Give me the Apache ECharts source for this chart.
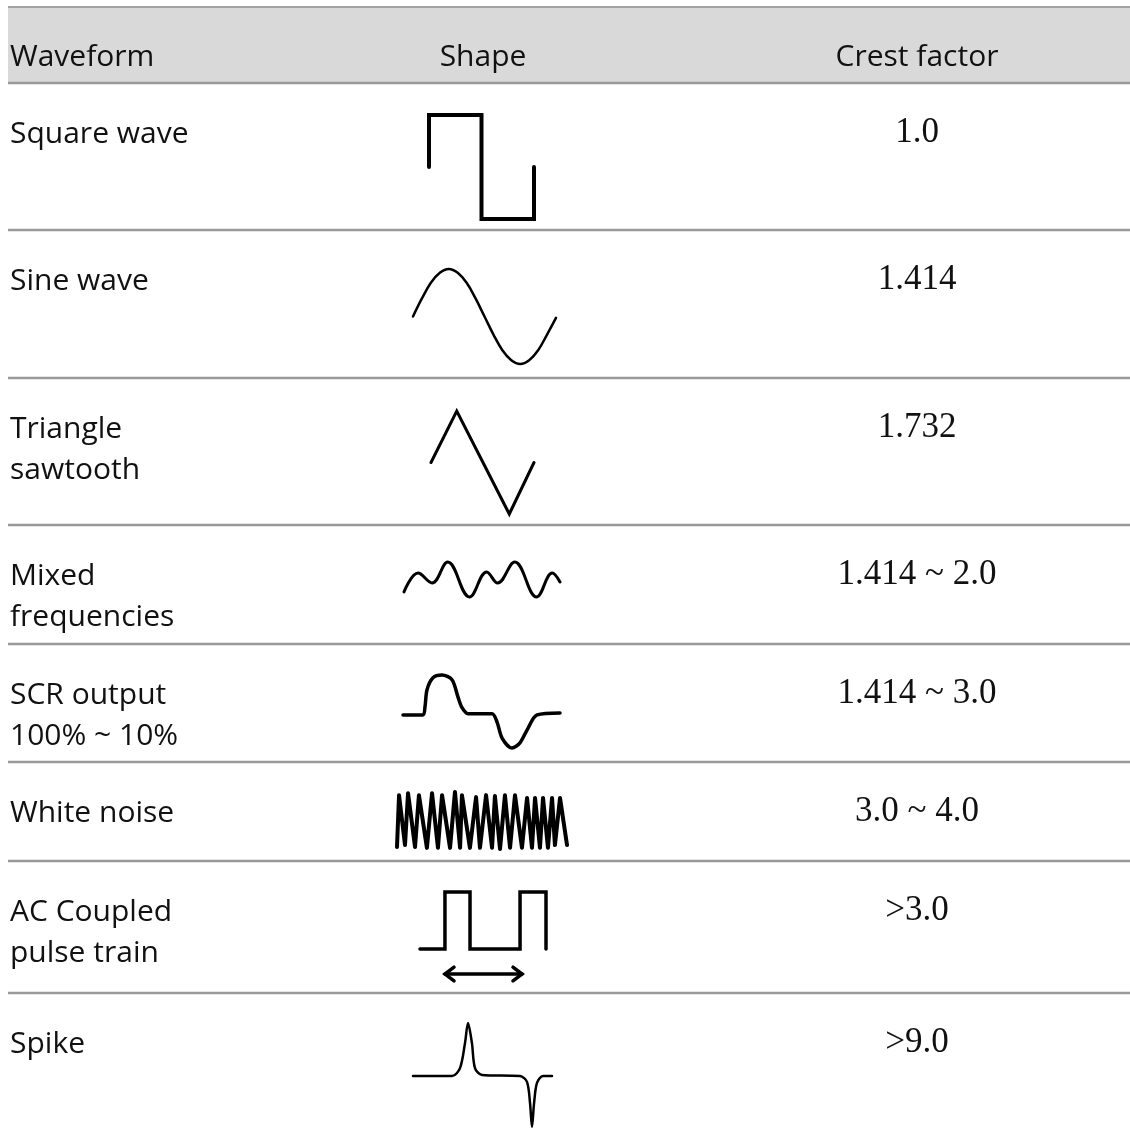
<!DOCTYPE html>
<html>
<head>
<meta charset="utf-8">
<script src="https://cdn.jsdelivr.net/npm/echarts@6/dist/echarts.min.js"></script>
<style>
html, body { margin: 0; padding: 0; background: #fff; }
#chart { width: 1130px; height: 1135px; }
</style>
</head>
<body>
<div id="chart"></div>
<script>
// table text
var headers = ["Waveform", "Shape", "Crest factor"];
var waveformNames = [
  ["Square wave"], ["Sine wave"], ["Triangle", "sawtooth"], ["Mixed", "frequencies"],
  ["SCR output", "100% ~ 10%"], ["White noise"], ["AC Coupled", "pulse train"], ["Spike"]
];
var crestFactors = ["1.0", "1.414", "1.732", "1.414 ~ 2.0", "1.414 ~ 3.0", "3.0 ~ 4.0", ">3.0", ">9.0"];

// waveform samples: [time 0..1, amplitude]
var squareWave = [[0, 0], [0, 1], [0.5, 1], [0.5, -1], [1, -1], [1, 0]];
var sineWave = [[0, 0], [0.0625, 0.38], [0.125, 0.71], [0.1875, 0.92], [0.25, 1], [0.3125, 0.92], [0.375, 0.71],
  [0.4375, 0.38], [0.5, 0], [0.5625, -0.38], [0.625, -0.71], [0.6875, -0.92], [0.75, -1], [0.8125, -0.92],
  [0.875, -0.71], [0.9375, -0.38], [1, -0.03]];
var triangleWave = [[0, 0], [0.25, 1], [0.76, -1], [1, 0]];
var mixedWave = [[0, -0.71], [0.09, 0.37], [0.18, -0.2], [0.28, 1], [0.42, -1], [0.53, 0.43], [0.6, -0.2],
  [0.71, 1], [0.85, -1], [0.95, 0.37], [1, -0.14]];
var scrWave = [[0, 0], [0.127, 0], [0.14, 0.2], [0.153, 0.63], [0.191, 0.93], [0.248, 1], [0.312, 0.88],
  [0.35, 0.45], [0.376, 0.18], [0.414, 0.03], [0.567, 0.03], [0.599, -0.18], [0.631, -0.58], [0.694, -0.83],
  [0.745, -0.7], [0.79, -0.38], [0.854, 0], [1, 0.05]];
var noiseWave = [[0, -0.93], [0.012, 0.89], [0.047, -0.86], [0.065, 0.96], [0.106, -0.93], [0.129, 0.89],
  [0.176, -0.96], [0.206, 0.96], [0.241, -0.96], [0.265, 0.89], [0.312, -0.96], [0.341, 1], [0.371, -0.96],
  [0.382, 0.89], [0.429, -0.96], [0.465, 0.82], [0.488, -0.96], [0.524, 0.89], [0.559, -0.96], [0.576, 0.86],
  [0.606, -1], [0.635, 0.89], [0.665, -0.96], [0.694, 0.89], [0.735, -0.96], [0.765, 0.79], [0.794, -0.96],
  [0.812, 0.79], [0.841, -0.96], [0.859, 0.79], [0.888, -0.96], [0.912, 0.79], [0.929, -0.86], [0.959, 0.79],
  [1, -0.86]];
var pulseTrain = [[0, 0], [0.198, 0], [0.198, 1], [0.397, 1], [0.397, 0], [0.794, 0], [0.794, 1], [1, 1], [1, 0]];
var pulseArrowShaft = [[0.198, -0.44], [0.81, -0.44]];
var pulseArrowLeft = [[0.27, -0.32], [0.198, -0.44], [0.27, -0.56]];
var pulseArrowRight = [[0.738, -0.32], [0.81, -0.44], [0.738, -0.56]];
var spikeWave = [[0, 0], [0.281, 0], [0.338, 0.15], [0.374, 0.62], [0.396, 1], [0.424, 0.62], [0.446, 0.15],
  [0.496, 0.02], [0.77, 0], [0.82, -0.11], [0.842, -0.51], [0.856, -0.96], [0.871, -0.51], [0.892, -0.13],
  [0.935, 0], [1, 0]];

// layout
var rowTops = [83, 230, 378, 525, 644, 762, 861, 993];
var shapes = [
  { data: [squareWave], box: [429, 115, 105, 104], y: [-1, 1], width: 4, smooth: false, join: "miter" },
  { data: [sineWave], box: [413, 269, 143, 95], y: [-1, 1], width: 2.5, smooth: 0.4, join: "round" },
  { data: [triangleWave], box: [431, 411, 103, 103], y: [-1, 1], width: 3, smooth: false, join: "miter" },
  { data: [mixedWave], box: [404, 562, 156, 35], y: [-1, 1], width: 3, smooth: 0.4, join: "round" },
  { data: [scrWave], box: [403, 675, 157, 73], y: [-0.83, 1], width: 3.5, smooth: 0.3, join: "round" },
  { data: [noiseWave], box: [397, 792, 170, 57], y: [-1, 1], width: 4, smooth: false, join: "round" },
  { data: [pulseTrain, pulseArrowShaft, pulseArrowLeft, pulseArrowRight], box: [420, 892, 126, 93], y: [-0.632, 1], width: 3.5, smooth: false, join: "miter" },
  { data: [spikeWave], box: [413, 1023, 139, 104], y: [-0.96, 1], width: 2.5, smooth: 0.3, join: "round" }
];

var sansFont = "'Open Sans', sans-serif";
var serifFont = "'Liberation Serif', serif";
var grids = [], xAxes = [], yAxes = [], series = [];
shapes.forEach(function (s, i) {
  grids.push({ left: s.box[0], top: s.box[1], width: s.box[2], height: s.box[3] });
  xAxes.push({ type: "value", gridIndex: i, min: 0, max: 1, show: false });
  yAxes.push({ type: "value", gridIndex: i, min: s.y[0], max: s.y[1], show: false });
  s.data.forEach(function (d) {
    series.push({
      type: "line", xAxisIndex: i, yAxisIndex: i, data: d, showSymbol: false, symbol: "none",
      smooth: s.smooth, clip: false, silent: true,
      lineStyle: { color: "#000", width: s.width, join: s.join, cap: "round" }
    });
  });
});

var graphics = [
  { type: "rect", shape: { x: 8, y: 7, width: 1122, height: 76 }, style: { fill: "#d9d9d9" }, z: -10 },
  { type: "line", shape: { x1: 8, y1: 7, x2: 1130, y2: 7 }, style: { stroke: "#a3a3a3", lineWidth: 2 } }
];
rowTops.forEach(function (t) {
  graphics.push({ type: "line", shape: { x1: 8, y1: t, x2: 1130, y2: t }, style: { stroke: "#999", lineWidth: 2.5 } });
});
var headerX = [10, 483, 917];
headers.forEach(function (h, i) {
  graphics.push({
    type: "text", x: headerX[i], y: 57,
    style: { text: h, font: "30px " + sansFont, fill: "#111", textAlign: i === 0 ? "left" : "center", textVerticalAlign: "middle" }
  });
});
waveformNames.forEach(function (lines, r) {
  lines.forEach(function (txt, k) {
    graphics.push({
      type: "text", x: 10, y: rowTops[r] + 51 + k * 41,
      style: { text: txt, font: "30px " + sansFont, fill: "#111", textVerticalAlign: "middle" }
    });
  });
  graphics.push({
    type: "text", x: 917, y: rowTops[r] + 50,
    style: { text: crestFactors[r], font: "35px " + serifFont, fill: "#111", textAlign: "center", textVerticalAlign: "middle" }
  });
});

var myChart = echarts.init(document.getElementById("chart"));
myChart.setOption({
  animation: false,
  backgroundColor: "#fff",
  grid: grids,
  xAxis: xAxes,
  yAxis: yAxes,
  series: series,
  graphic: graphics
});
</script>
</body>
</html>
